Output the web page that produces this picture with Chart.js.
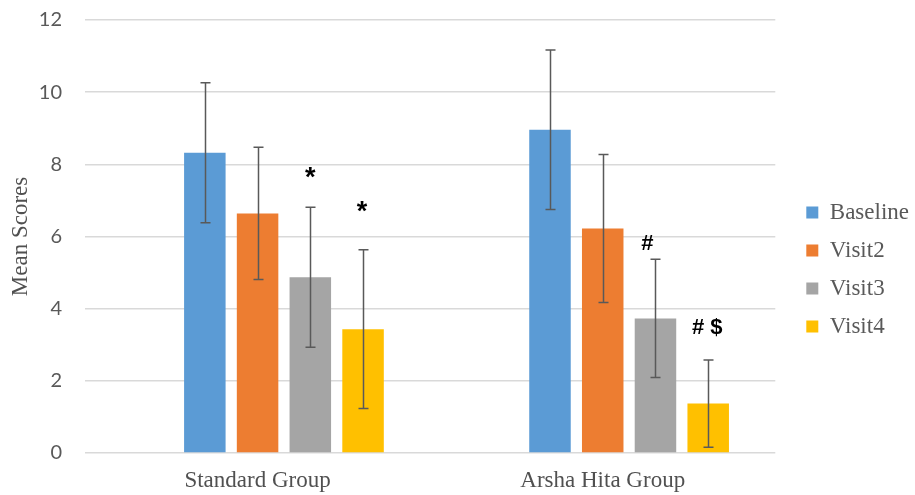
<!DOCTYPE html>
<html>
<head>
<meta charset="utf-8">
<script src="https://cdn.jsdelivr.net/npm/chart.js@4/dist/chart.umd.min.js"></script>
<style>
  html, body { margin: 0; padding: 0; background: #ffffff; }
  #wrap { width: 915px; height: 495px; }
</style>
</head>
<body>
<div id="wrap"><canvas id="chart" width="915" height="495"></canvas></div>
<script>
// Mean scores per group and visit, with standard deviations
const groups = ['Standard Group', 'Arsha Hita Group'];
const seriesNames = ['Baseline', 'Visit2', 'Visit3', 'Visit4'];
const baselineMean = [8.32, 8.96];
const visit2Mean   = [6.64, 6.22];
const visit3Mean   = [4.87, 3.73];
const visit4Mean   = [3.43, 1.37];
const baselineSD = [1.94, 2.21];
const visit2SD   = [1.83, 2.05];
const visit3SD   = [1.94, 1.64];
const visit4SD   = [2.20, 1.21];
// significance marks above the bars
const visit3Marks = ['*', '#'];
const visit4Marks = ['*', '# $'];
const yTicks = [0, 2, 4, 6, 8, 10, 12];

// styling
const colors = ['#5B9BD5', '#ED7D31', '#A5A5A5', '#FFC000'];
const serif = '"Liberation Serif", "Times New Roman", serif';
const sans = 'Lato, "Liberation Sans", sans-serif';
const textGray = '#595959';
// mark offsets from the top of each error bar (px)
const markOffsets = {
  Visit3: [{ dx: 0, dy: -35 }, { dx: -8, dy: -17 }],
  Visit4: [{ dx: -1, dy: -43 }, { dx: -1, dy: -32 }]
};

const means = [baselineMean, visit2Mean, visit3Mean, visit4Mean];
const sds = [baselineSD, visit2SD, visit3SD, visit4SD];
const marks = [null, null, visit3Marks, visit4Marks];

const datasets = [
  // empty leading slot: keeps the bar cluster right of the category centre
  { label: '', data: groups.map(() => null), backgroundColor: 'rgba(0,0,0,0)' }
].concat(seriesNames.map((name, i) => ({
  label: name,
  data: means[i],
  sd: sds[i],
  marks: marks[i],
  backgroundColor: colors[i],
  borderWidth: 0
})));

const errorBars = {
  id: 'errorBars',
  afterDatasetsDraw(chart) {
    const ctx = chart.ctx;
    const y = chart.scales.y;
    chart.data.datasets.forEach((ds, i) => {
      if (!ds.sd) return;
      const meta = chart.getDatasetMeta(i);
      meta.data.forEach((bar, j) => {
        const m = ds.data[j], s = ds.sd[j];
        if (m == null) return;
        const x = Math.round(bar.x) + 0.5;
        const yt = y.getPixelForValue(m + s);
        const yb = y.getPixelForValue(m - s);
        ctx.save();
        ctx.strokeStyle = '#595959';
        ctx.lineWidth = 1.5;
        ctx.beginPath();
        ctx.moveTo(x, yt); ctx.lineTo(x, yb);
        ctx.moveTo(x - 5, yt); ctx.lineTo(x + 5, yt);
        ctx.moveTo(x - 5, yb); ctx.lineTo(x + 5, yb);
        ctx.stroke();
        ctx.restore();

        if (ds.marks && ds.marks[j]) {
          const txt = ds.marks[j];
          const off = markOffsets[ds.label][j];
          const size = txt === '*' ? 27 : 22;
          ctx.save();
          ctx.font = 'bold ' + size + 'px "Liberation Sans", Arial, sans-serif';
          ctx.fillStyle = '#000000';
          ctx.textAlign = 'center';
          ctx.textBaseline = 'alphabetic';
          const mt = ctx.measureText(txt);
          const cy = yt + off.dy;
          const base = cy + (mt.actualBoundingBoxAscent - mt.actualBoundingBoxDescent) / 2;
          ctx.fillText(txt, bar.x + off.dx, base);
          ctx.restore();
        }
      });
    });
  }
};

const legendPlacement = {
  id: 'legendPlacement',
  afterLayout(chart) {
    const lg = chart.legend;
    if (!lg) return;
    const left = chart.chartArea.right + 16;
    const top = chart.chartArea.top + 166;
    const w = lg.width, h = lg.height;
    lg.left = left; lg.right = left + w;
    lg.top = top; lg.bottom = top + h;
  }
};

new Chart(document.getElementById('chart'), {
  type: 'bar',
  data: { labels: groups, datasets: datasets },
  plugins: [errorBars, legendPlacement],
  options: {
    responsive: false,
    devicePixelRatio: 1,
    animation: false,
    layout: { padding: { top: 20, right: 12, bottom: 0, left: 0 } },
    datasets: {
      bar: { categoryPercentage: 0.764, barPercentage: 0.787 }
    },
    plugins: {
      tooltip: { enabled: false },
      legend: {
        position: 'right',
        align: 'start',
        labels: {
          filter: (item) => item.text !== '',
          boxWidth: 12,
          boxHeight: 12,
          padding: 15,
          color: textGray,
          font: { family: serif, size: 23 }
        }
      }
    },
    scales: {
      x: {
        grid: { display: false, drawTicks: false },
        border: { display: false },
        ticks: {
          padding: 14,
          color: '#505050',
          font: { family: serif, size: 23 }
        },
        afterFit(scale) { scale.height = 42; }
      },
      y: {
        min: 0,
        max: 12,
        afterBuildTicks(scale) { scale.ticks = yTicks.map(v => ({ value: v })); },
        grid: {
          color: '#d9d9d9',
          lineWidth: 1.5,
          drawTicks: true,
          tickLength: 23,
          tickColor: 'rgba(0,0,0,0)'
        },
        border: { display: false },
        ticks: {
          padding: 0,
          color: textGray,
          font: { family: sans, size: 20 }
        },
        title: {
          display: true,
          text: 'Mean Scores',
          color: '#505050',
          padding: { top: 7, bottom: 0 },
          font: { family: serif, size: 23 }
        },
        afterFit(scale) { scale.width = 85; }
      }
    }
  }
});
</script>
</body>
</html>
